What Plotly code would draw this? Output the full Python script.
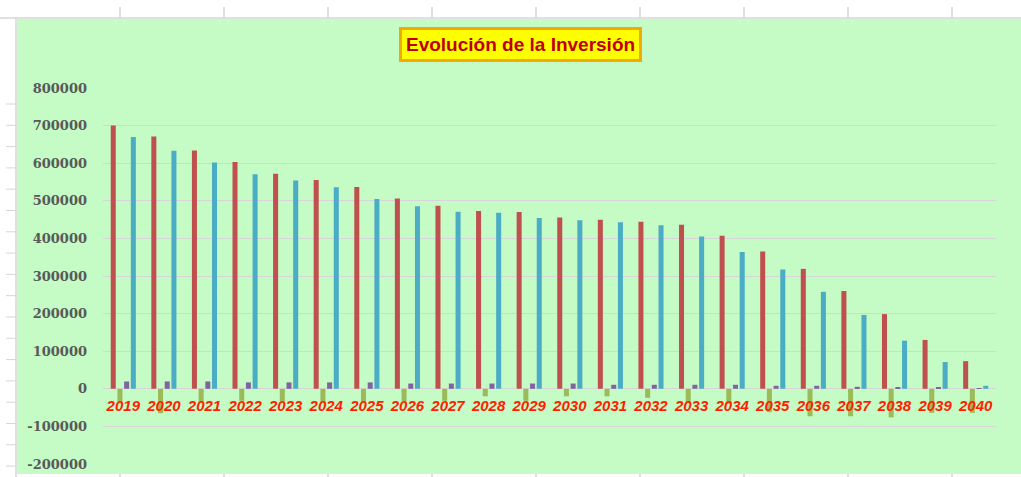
import plotly.graph_objects as go

# Evolución de la Inversión 2019-2040
years = [str(y) for y in range(2019, 2041)]

capital_inicio = [700000, 671000, 634000, 603000, 572000, 555000, 537000, 506000,
                  487000, 472600, 470000, 455700, 449500, 444000, 436000, 407000,
                  365000, 319000, 260000, 198700, 130000, 73600]
flujo = [-35000, -65000, -35000, -32000, -33000, -35000, -35000, -33000,
         -32000, -20000, -32000, -20000, -20000, -24000, -38000, -40000,
         -62000, -73000, -73000, -76000, -64000, -64000]
intereses = [19500, 19500, 19500, 17000, 17000, 17000, 17000, 14000,
             14000, 14000, 14000, 14000, 10700, 10700, 10700, 10700,
             8000, 8000, 5300, 2700, 2700, 500]
capital_fin = [670000, 632800, 601900, 570700, 553900, 536000, 504800, 485300,
               471200, 468500, 454100, 448000, 442700, 434700, 405300, 363500,
               317300, 257900, 196500, 128000, 71200, 8000]

y_ticks = list(range(-200000, 800001, 100000))
y_min, y_max = -200000, 800000

W, H = 1021, 477
L, R, T, B = 103, 996, 88, 464   # plot area in pixels


def px_x(x):
    return (x - L) / (R - L)


def px_y(y):
    return (B - y) / (B - T)


GREEN = '#C5FBC5'
GRID = '#D6D6D6'

fig = go.Figure(data=[
    go.Bar(name='Capital inicio', x=years, y=capital_inicio, marker_color='#C0504D'),
    go.Bar(name='Flujo', x=years, y=flujo, marker_color='#9BBB59'),
    go.Bar(name='Intereses', x=years, y=intereses, marker_color='#8064A2'),
    go.Bar(name='Capital fin', x=years, y=capital_fin, marker_color='#4BACC6'),
])
fig.update_traces(marker_line_width=0)

# spreadsheet look around the chart object
shapes = [
    dict(type='rect', xref='paper', yref='paper', layer='below',
         x0=px_x(17), x1=px_x(W), y0=px_y(474), y1=px_y(19),
         fillcolor=GREEN, line_width=0),
    dict(type='line', xref='paper', yref='paper',
         x0=px_x(0), x1=px_x(W), y0=px_y(18), y1=px_y(18),
         line=dict(color=GRID, width=1.5)),
    dict(type='line', xref='paper', yref='paper',
         x0=px_x(16), x1=px_x(16), y0=px_y(477), y1=px_y(18),
         line=dict(color=GRID, width=1.5)),
]
for cx in range(120, W, 104):
    shapes.append(dict(type='line', xref='paper', yref='paper',
                       x0=px_x(cx), x1=px_x(cx), y0=px_y(18), y1=px_y(7),
                       line=dict(color=GRID, width=1.5)))
    shapes.append(dict(type='line', xref='paper', yref='paper',
                       x0=px_x(cx), x1=px_x(cx), y0=px_y(477), y1=px_y(474),
                       line=dict(color=GRID, width=1.5)))
ry = 104.0
while ry < H:
    shapes.append(dict(type='line', xref='paper', yref='paper',
                       x0=px_x(6), x1=px_x(16), y0=px_y(ry), y1=px_y(ry),
                       line=dict(color=GRID, width=1)))
    ry += 21.3

fig.update_layout(
    width=W, height=H,
    margin=dict(l=L, r=W - R, t=T, b=H - B, pad=0, autoexpand=False),
    paper_bgcolor='white',
    plot_bgcolor=GREEN,
    barmode='group',
    bargap=0.34,
    bargroupgap=0.25,
    showlegend=False,
    shapes=shapes,
    annotations=[dict(
        text='<b>Evolución de la Inversión</b>',
        xref='paper', yref='paper', x=px_x(520), y=px_y(44.5),
        xanchor='center', yanchor='middle', showarrow=False,
        font=dict(family='Liberation Sans, Arial, sans-serif',
                  size=19, color='#C00000'),
        bgcolor='#FFFF00', bordercolor='#F2A900', borderwidth=3, borderpad=4,
    )],
)

fig.update_xaxes(
    type='category',
    anchor='free',
    position=(0 - y_min) / (y_max - y_min),
    automargin=False,
    showline=False, showgrid=False, ticks='',
    ticklabelstandoff=6,
    tickfont=dict(family='Liberation Sans, Arial, sans-serif', size=15,
                  color='#FF1F00', weight='bold', style='italic'),
)
fig.update_yaxes(
    range=[y_min, y_max],
    automargin=False,
    tickvals=y_ticks,
    ticktext=[str(v) for v in y_ticks],
    showgrid=True, gridcolor='#D9D4D9', gridwidth=1,
    zeroline=True, zerolinecolor='#D9D4D9', zerolinewidth=1,
    showline=False, ticks='',
    ticklabelstandoff=15,
    tickfont=dict(family='DejaVu Serif, serif', size=13, color='#595959',
                  weight='bold'),
)

fig.write_html('out.html', config={'displayModeBar': False},
               post_script="document.body.style.margin='0';")
